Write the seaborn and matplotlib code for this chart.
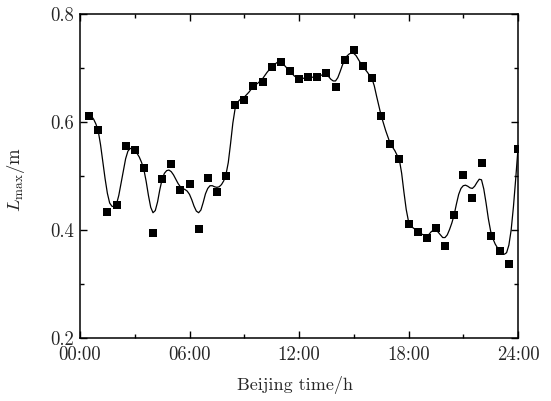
import numpy as np
import pandas as pd
import matplotlib
matplotlib.use("Agg")
import matplotlib.pyplot as plt
from matplotlib.ticker import MultipleLocator, FixedLocator, FixedFormatter
import seaborn as sns

# measured points (hour, L_max in m)
hours = [0.5, 1.0, 1.5, 2.0, 2.5, 3.0, 3.5, 4.0, 4.5, 5.0, 5.5, 6.0, 6.5, 7.0, 7.5, 8.0,
         8.5, 9.0, 9.5, 10.0, 10.5, 11.0, 11.5, 12.0, 12.5, 13.0, 13.5, 14.0, 14.5, 15.0,
         15.5, 16.0, 16.5, 17.0, 17.5, 18.0, 18.5, 19.0, 19.5, 20.0, 20.5, 21.0, 21.5,
         22.0, 22.5, 23.0, 23.5, 24.0]
lmax = [0.612, 0.585, 0.433, 0.446, 0.556, 0.548, 0.515, 0.394, 0.495, 0.523, 0.475,
        0.486, 0.402, 0.496, 0.471, 0.500, 0.632, 0.640, 0.667, 0.675, 0.702, 0.711,
        0.694, 0.679, 0.683, 0.683, 0.691, 0.664, 0.715, 0.733, 0.704, 0.681, 0.612,
        0.559, 0.531, 0.412, 0.397, 0.385, 0.403, 0.370, 0.428, 0.501, 0.460, 0.525,
        0.388, 0.362, 0.337, 0.550]

# fitted curve (hour, value)
curve_h = [0.5, 0.625, 0.75, 0.875, 1.0, 1.125, 1.25, 1.375, 1.5, 1.625, 1.75, 1.875,
           2.0, 2.125, 2.25, 2.375, 2.5, 2.625, 2.75, 2.875, 3.0, 3.125, 3.25, 3.375,
           3.5, 3.625, 3.75, 3.875, 4.0, 4.125, 4.25, 4.375, 4.5, 4.625, 4.75, 4.875,
           5.0, 5.125, 5.25, 5.375, 5.5, 5.625, 5.75, 5.875, 6.0, 6.125, 6.25, 6.375,
           6.5, 6.625, 6.75, 6.875, 7.0, 7.125, 7.25, 7.375, 7.5, 7.625, 7.75, 7.875,
           8.0, 8.125, 8.25, 8.375, 8.5, 8.625, 8.75, 9.0, 9.25, 9.5, 9.75, 10.0, 10.25,
           10.5, 10.75, 10.875, 11.0, 11.125, 11.25, 11.5, 11.75, 12.0, 12.5, 13.0,
           13.25, 13.5, 13.625, 13.75, 13.875, 14.0, 14.125, 14.25, 14.375, 14.5,
           14.625, 14.75, 14.875, 15.0, 15.125, 15.25, 15.375, 15.5, 15.75, 16.0,
           16.125, 16.25, 16.375, 16.5, 16.75, 17.0, 17.25, 17.5, 17.625, 17.75,
           17.875, 18.0, 18.125, 18.25, 18.5, 18.75, 19.0, 19.125, 19.25, 19.375, 19.5,
           19.625, 19.75, 19.875, 20.0, 20.125, 20.25, 20.375, 20.5, 20.625, 20.75,
           20.875, 21.0, 21.125, 21.25, 21.375, 21.5, 21.625, 21.75, 21.875, 22.0,
           22.125, 22.25, 22.375, 22.5, 22.625, 22.75, 22.875, 23.0, 23.125, 23.25,
           23.375, 23.5, 23.625, 23.75, 23.875, 24.0]
curve_v = [0.612, 0.611, 0.605, 0.596, 0.583, 0.558, 0.527, 0.495, 0.468, 0.450, 0.444,
           0.443, 0.448, 0.464, 0.487, 0.511, 0.532, 0.546, 0.551, 0.551, 0.547, 0.542,
           0.535, 0.525, 0.512, 0.490, 0.464, 0.442, 0.432, 0.436, 0.452, 0.475, 0.494,
           0.505, 0.510, 0.511, 0.508, 0.502, 0.494, 0.486, 0.480, 0.477, 0.475, 0.472,
           0.466, 0.456, 0.444, 0.435, 0.432, 0.437, 0.451, 0.467, 0.477, 0.482, 0.482,
           0.480, 0.479, 0.480, 0.484, 0.491, 0.503, 0.525, 0.560, 0.598, 0.625, 0.636,
           0.641, 0.646, 0.655, 0.666, 0.672, 0.680, 0.692, 0.702, 0.709, 0.712, 0.711,
           0.708, 0.703, 0.694, 0.685, 0.680, 0.682, 0.684, 0.687, 0.687, 0.684, 0.679,
           0.676, 0.676, 0.682, 0.693, 0.705, 0.715, 0.722, 0.726, 0.728, 0.727, 0.723,
           0.716, 0.709, 0.703, 0.692, 0.680, 0.667, 0.648, 0.630, 0.612, 0.584, 0.560,
           0.547, 0.530, 0.505, 0.470, 0.438, 0.416, 0.408, 0.404, 0.398, 0.392, 0.389,
           0.392, 0.397, 0.400, 0.400, 0.396, 0.391, 0.386, 0.386, 0.391, 0.401, 0.413,
           0.428, 0.448, 0.466, 0.477, 0.482, 0.483, 0.481, 0.478, 0.477, 0.481, 0.488,
           0.494, 0.493, 0.476, 0.450, 0.421, 0.398, 0.384, 0.374, 0.367, 0.362, 0.357,
           0.355, 0.358, 0.372, 0.400, 0.443, 0.495, 0.551]

x_ticks = [0, 6, 12, 18, 24]
x_ticklabels = ["00:00", "06:00", "12:00", "18:00", "24:00"]
y_ticks = [0.2, 0.4, 0.6, 0.8]
y_ticklabels = ["0.2", "0.4", "0.6", "0.8"]

sns.set_style("ticks")
plt.rcParams["font.family"] = ["cmr10", "DejaVu Serif"]
plt.rcParams["mathtext.fontset"] = "cm"
plt.rcParams["axes.formatter.use_mathtext"] = True

pts = pd.DataFrame({"h": hours, "L": lmax})
crv = pd.DataFrame({"h": curve_h, "L": curve_v})

fig = plt.figure(figsize=(5.51, 4.01), dpi=100)
ax = fig.add_axes([80 / 551, (401 - 338) / 401, (518 - 80) / 551, (338 - 14) / 401])

sns.lineplot(data=crv, x="h", y="L", ax=ax, color="black", linewidth=0.9, sort=False)
sns.scatterplot(data=pts, x="h", y="L", ax=ax, color="black", marker="s", s=30,
                linewidth=0, zorder=3)

ax.set_xlim(0, 24)
ax.set_ylim(0.2, 0.8)
ax.xaxis.set_major_locator(FixedLocator(x_ticks))
ax.xaxis.set_major_formatter(FixedFormatter(x_ticklabels))
ax.xaxis.set_minor_locator(MultipleLocator(3))
ax.yaxis.set_major_locator(FixedLocator(y_ticks))
ax.yaxis.set_major_formatter(FixedFormatter(y_ticklabels))
ax.yaxis.set_minor_locator(MultipleLocator(0.1))
ax.tick_params(which="both", direction="in", top=True, right=True, labelsize=13.5,
               color="black", width=1.0)
ax.tick_params(which="major", length=5)
ax.tick_params(which="minor", length=3)
ax.tick_params(axis="x", pad=6)
ax.tick_params(axis="y", pad=4)
for sp in ax.spines.values():
    sp.set_visible(True)
    sp.set_linewidth(1.1)
    sp.set_color("black")

ax.set_xlabel("Beijing time/h", fontsize=13)
ax.set_ylabel(r"$L_{\mathrm{max}}/\mathrm{m}$", fontsize=13.5)
ax.xaxis.set_label_coords(0.49, -0.118)
ax.yaxis.set_label_coords(-0.122, 0.49)

fig.savefig("out.png", dpi=100)
